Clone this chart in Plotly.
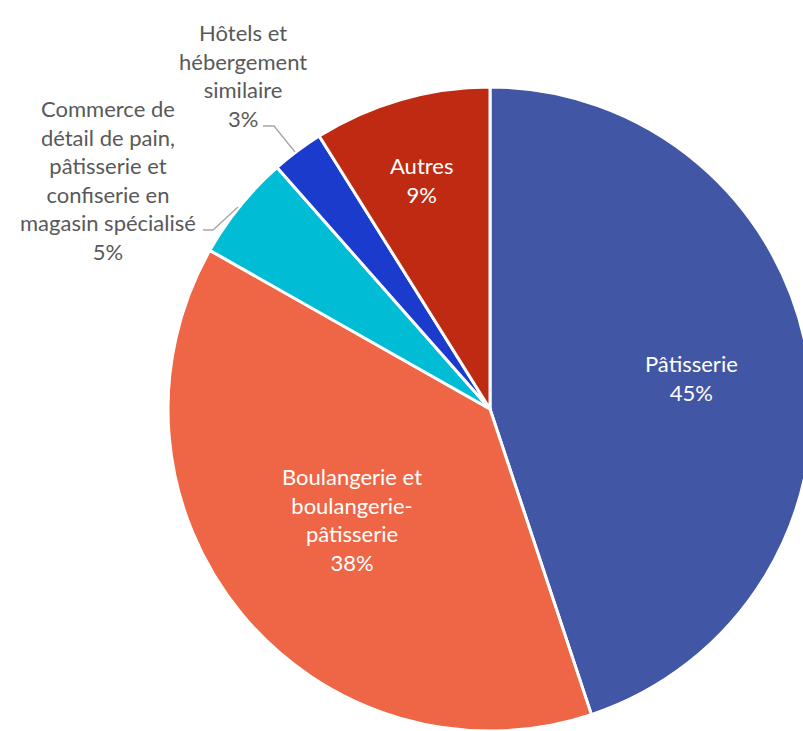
import plotly.graph_objects as go

labels = ["Pâtisserie", "Boulangerie et<br>boulangerie-<br>pâtisserie",
          "Commerce de<br>détail de pain,<br>pâtisserie et<br>confiserie en<br>magasin spécialisé",
          "Hôtels et<br>hébergement<br>similaire", "Autres"]
values = [44.9, 38.3, 5.3, 2.6, 8.9]
colors = ["#4156A4", "#EF6646", "#00BCD5", "#1A3BCC", "#BE2B12"]
inside = [True, True, False, False, True]

W, H = 830, 731
total = sum(values)

fig = go.Figure(go.Pie(
    labels=labels, values=values, sort=False, direction="clockwise", rotation=0,
    marker=dict(colors=colors, line=dict(color="white", width=3)),
    textinfo="none",
    domain=dict(x=[168 / W, 812 / W], y=[0, 1 - 87 / H]),
    showlegend=False, hoverinfo="label+percent",
))

def px(x, y):
    return x / W, 1 - y / H

label_pos = [(691, 378), (352, 519), (108, 180), (243, 75), (421, 180)]
for idx, (x, y) in enumerate(label_pos):
    pct = f"{round(values[idx] / total * 100)}%"
    ax, ay = px(x, y)
    fig.add_annotation(x=ax, y=ay, xref="paper", yref="paper", showarrow=False,
                       xanchor="center", yanchor="middle",
                       text=labels[idx] + "<br>" + pct, align="center",
                       font=dict(color="white" if inside[idx] else "#595959",
                                 size=22, family="Lato"))

lines = [
    [(263, 126), (274, 126), (295, 152)],
    [(203, 230), (213, 230), (238, 207)],
]
for pts in lines:
    d = ""
    for k, (x, y) in enumerate(pts):
        a, b = px(x, y)
        d += ("M" if k == 0 else "L") + f"{a},{b} "
    fig.add_shape(type="path", path=d, xref="paper", yref="paper",
                  line=dict(color="#A6A6A6", width=1.3))

fig.update_layout(width=W, height=H, margin=dict(l=0, r=0, t=0, b=0),
                  paper_bgcolor="white", plot_bgcolor="white")

fig.write_html("out.html", config={"displayModeBar": False},
               post_script="document.body.style.margin='0';document.body.style.overflow='hidden';document.documentElement.style.overflow='hidden';")
